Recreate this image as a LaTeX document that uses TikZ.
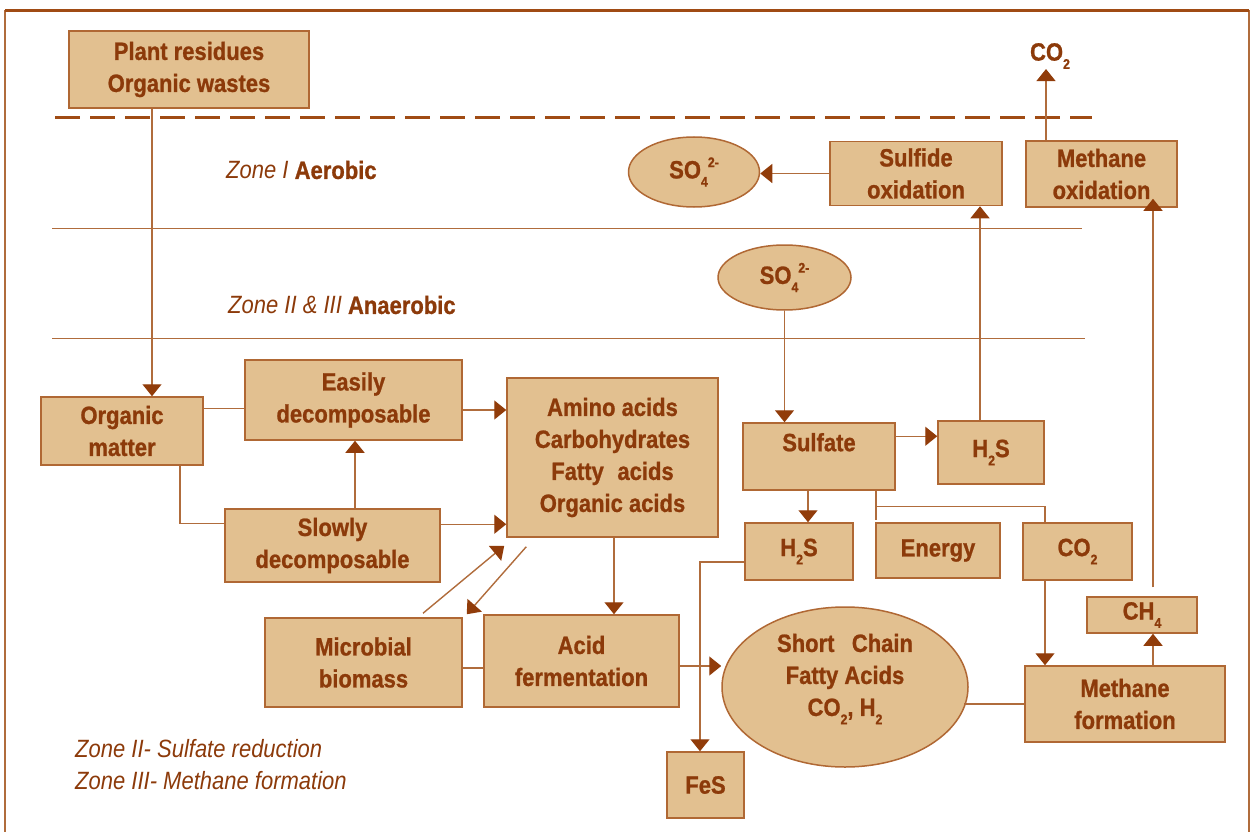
\documentclass[tikz,border=0pt]{standalone}
\usepackage{fontspec}
\setmainfont{Liberation Sans}[FakeStretch=0.88, BoldFeatures={FakeBold=0.9}]
\usetikzlibrary{arrows.meta,shapes.geometric}
\definecolor{txt}{RGB}{140,58,10}
\definecolor{boxfill}{RGB}{226,192,144}
\definecolor{boxline}{RGB}{176,104,52}
\definecolor{wirec}{RGB}{176,108,60}
\definecolor{tipc}{RGB}{145,60,10}
\definecolor{framec}{RGB}{176,108,60}
\definecolor{framedark}{RGB}{160,75,20}
% chemical sub- and superscripts
\newcommand{\lo}[1]{\raisebox{-0.33em}{\fontsize{14}{14}\selectfont #1}}
\newcommand{\hi}[1]{\raisebox{0.45em}{\fontsize{14}{14}\selectfont #1}}
\newcommand{\boxfont}{\fontsize{25}{32}\selectfont\bfseries}

\begin{document}
\begin{tikzpicture}[x=1pt,y=-1pt,
  box/.style={draw=boxline, fill=boxfill, line width=1.5pt, text=txt,
    align=center, inner sep=0pt, font=\boxfont},
  oval/.style={box, ellipse},
  lbl/.style={text=txt, inner sep=0pt, font=\boxfont},
  wire/.style={draw=wirec, line width=1.4pt},
  arr/.style={wire, -{Triangle[width=19pt,length=12pt,color=tipc]}},
  zone/.style={text=txt, anchor=west, inner sep=0pt,
    font=\fontsize{25}{32}\selectfont},
  zoneline/.style={draw=wirec, line width=1pt}
]
\useasboundingbox (0,0) rectangle (1250,832);
\clip (0,0) rectangle (1250,832);

% frame
\draw[draw=framec, line width=2.5pt] (5,860) -- (5,11) -- (1249,11) -- (1249,860);
\draw[draw=framedark, line width=3pt] (5,11) -- (1249,11);

% zone boundaries
\draw[draw=framedark, line width=3pt, dash pattern=on 25pt off 10pt] (55,118) -- (1092,118);
\draw[zoneline] (52,228) -- (1082,228);
\draw[zoneline] (52,338) -- (1085,338);

% zone labels
\node[zone] (zoneA) at (226,170) {\textit{Zone I} \textbf{Aerobic}};
\node[zone] (zoneB) at (228,305) {\textit{Zone II \& III} \textbf{Anaerobic}};
\node[zone] (zoneC) at (75,749) {\textit{Zone II- Sulfate reduction}};
\node[zone] (zoneD) at (75,781) {\textit{Zone III- Methane formation}};

% helper columns
\coordinate (x152) at (152,0);
\coordinate (x1046) at (1046,0);

% boxes
\node[box, minimum width=240pt, minimum height=77pt] (plant) at (189,69.5) {Plant residues\\Organic wastes};
\node[box, minimum width=172pt, minimum height=64pt] (sulfox) at (916,173.5) {Sulfide\\oxidation};
\node[box, minimum width=151pt, minimum height=66pt] (methox) at (1101.5,174) {Methane\\oxidation};
\node[oval, minimum width=131pt, minimum height=70pt] (so4a) at (694,172) {SO\lo{4}\hi{2-}};
\node[lbl] (co2top) at (1050,56) {CO\lo{2}};
\node[oval, minimum width=133pt, minimum height=65pt] (so4b) at (784.5,277.5) {SO\lo{4}\hi{2-}};

\node[box, minimum width=162pt, minimum height=68pt] (orgm) at (122,431) {Organic\\matter};
\node[box, minimum width=217pt, minimum height=80pt] (easily) at (353.5,400) {Easily\\decomposable};
\node[box, minimum width=215pt, minimum height=73pt] (slowly) at (332.5,545.5) {Slowly\\decomposable};
\node[box, minimum width=211pt, minimum height=159pt] (amino) at (612.5,457.5) {Amino acids\\Carbohydrates\\Fatty\hspace{0.3em} acids\\Organic acids};
\node[box, minimum width=197pt, minimum height=89pt] (microb) at (363.5,662.5) {Microbial\\biomass};
\node[box, minimum width=195pt, minimum height=92pt] (acidf) at (581.5,661) {Acid\\fermentation};

\node[box, minimum width=152pt, minimum height=67pt] (sulfate) at (819,456.5) {};
\node[lbl] (sulfateLbl) at ([yshift=-20pt]sulfate.north) {Sulfate};
\node[box, minimum width=106pt, minimum height=63pt] (h2sR) at (991,452.5) {H\lo{2}S};
\node[box, minimum width=108pt, minimum height=57pt] (h2sL) at (799,551.5) {H\lo{2}S};
\node[box, minimum width=124pt, minimum height=55pt] (energy) at (938,550.5) {Energy};
\node[box, minimum width=109pt, minimum height=57pt] (co2) at (1077.5,551.5) {CO\lo{2}};
\node[box, minimum width=110pt, minimum height=36pt] (ch4) at (1142,615) {CH\lo{4}};
\node[box, minimum width=200pt, minimum height=76pt] (methform) at (1125,704) {Methane\\formation};
\node[oval, minimum width=246pt, minimum height=160pt] (scfa) at (845,687) {};
\node[lbl, align=center] (scfaLbl) at (845,679) {Short\hspace{0.45em} Chain\\Fatty Acids\\CO\lo{2}, H\lo{2}};
\node[box, minimum width=77pt, minimum height=66pt] (fes) at (705.5,785) {FeS};

% connectors: aerobic zone
\draw[arr] (sulfox.west) -- (sulfox.west -| so4a.east);
\draw[arr] (methox.north -| x1046) -- (co2top.south -| x1046);

% connectors: organic matter pathway
\draw[arr] (plant.south -| x152) -- (orgm.north -| x152);
\draw[wire] ([yshift=-12pt]orgm.north east) -- ([yshift=-12pt]orgm.north east -| easily.west);
\draw[wire] ([xshift=58pt]orgm.south) |- ([yshift=-15pt]slowly.north west);
\draw[arr] ([xshift=22.5pt]slowly.north) -- ([xshift=22.5pt]slowly.north |- easily.south);
\draw[arr] ([yshift=-10pt]easily.east) -- ([yshift=-10pt]easily.east -| amino.west);
\draw[arr] ([yshift=-16pt]slowly.north east) -- ([yshift=-16pt]slowly.north east -| amino.west);
\draw[arr] ([shift={(59.5pt,4pt)}]microb.north) -- ([shift={(-2pt,-8pt)}]amino.south west);
\draw[arr] ([shift={(20pt,-9pt)}]amino.south west) -- ([shift={(4pt,3pt)}]microb.north east);
\draw[arr] ([xshift=1.5pt]amino.south) -- ([xshift=1.5pt]amino.south |- acidf.north);
\draw[wire] ([yshift=-5.5pt]microb.east) -- ([yshift=-5.5pt]microb.east -| acidf.west);
\draw[arr] ([yshift=-5pt]acidf.east) -- ([yshift=-5pt]acidf.east -| scfa.west);

% connectors: sulfate reduction
\draw[arr] (so4b.south) -- (so4b.south |- sulfate.north);
\draw[arr] ([yshift=-14pt]sulfate.north east) -- ([yshift=-14pt]sulfate.north east -| h2sR.west);
\draw[arr] ([xshift=-11pt]h2sR.north) -- ([xshift=-11pt]h2sR.north |- sulfox.south);
\draw[arr] ([xshift=-11pt]sulfate.south) -- ([xshift=-11pt]sulfate.south |- h2sL.north);
\draw[wire] ([xshift=57pt]sulfate.south) -- ([xshift=57pt,yshift=2pt]sulfate.south |- energy.north);
\draw[wire] ([xshift=57pt,yshift=-16pt]sulfate.south) -| ([xshift=-32.5pt]co2.north);
\draw[arr] ([yshift=-10.5pt]h2sL.west) -| ([xshift=-5.5pt]fes.north);

% connectors: methane formation
\draw[arr] ([xshift=-32.5pt]co2.south) -- ([xshift=-32.5pt]co2.south |- methform.north);
\draw[arr] ([xshift=28pt]methform.north) -- ([xshift=28pt]methform.north |- ch4.south);
\draw[arr] ([shift={(11pt,9pt)}]ch4.north) -- ([shift={(11pt,9pt)}]ch4.north |- methox.south);
\draw[wire] (methform.west) -- ++(-60pt,0);
\end{tikzpicture}
\end{document}
